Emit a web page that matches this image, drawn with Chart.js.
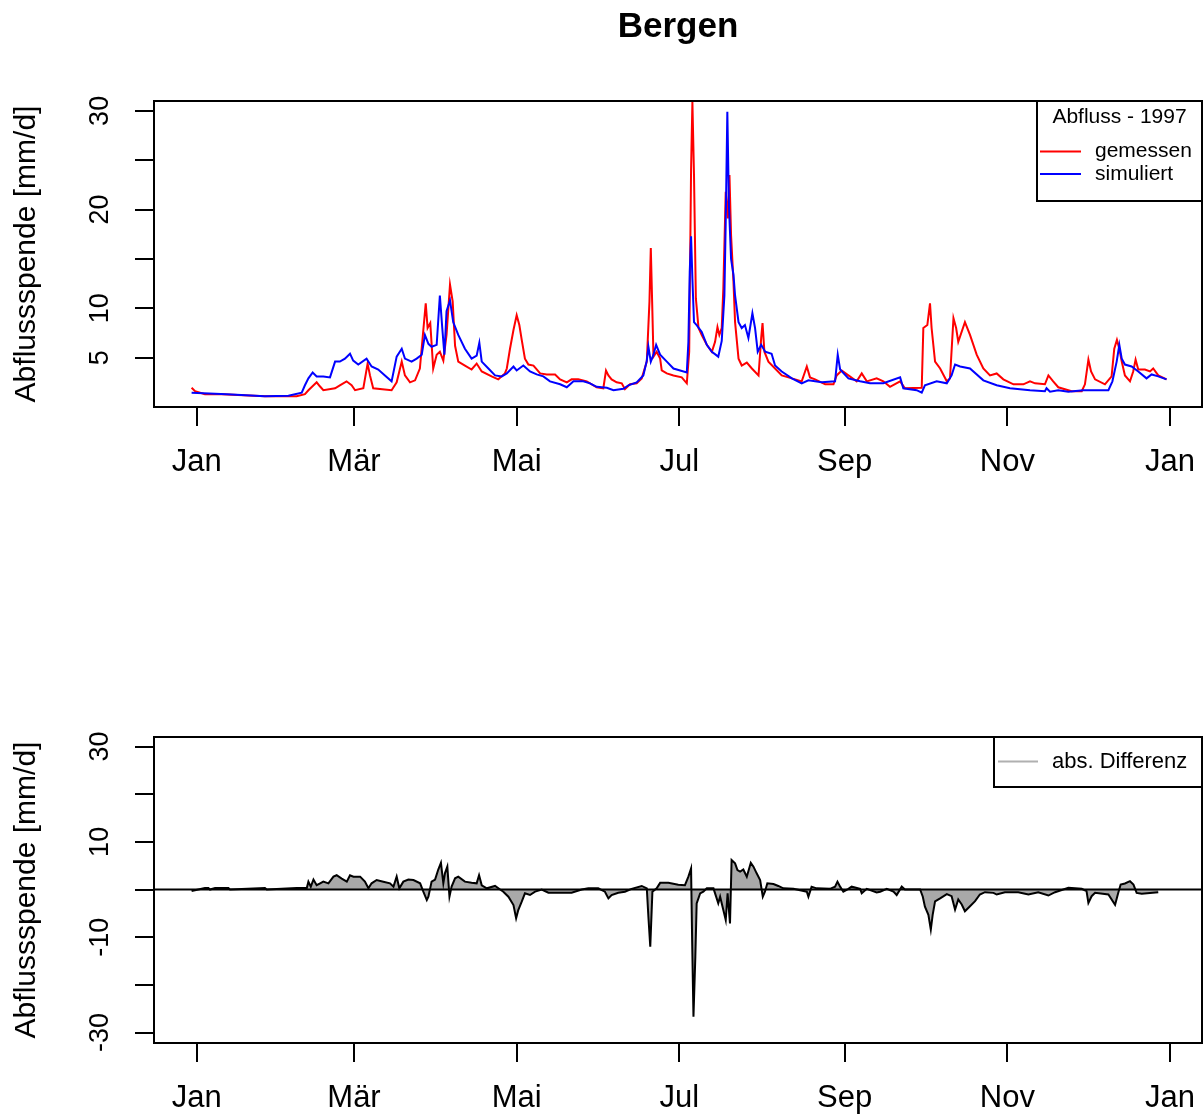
<!DOCTYPE html>
<html><head><meta charset="utf-8">
<script src="https://cdn.jsdelivr.net/npm/chart.js@4/dist/chart.umd.min.js"></script>
<style>
html,body{margin:0;padding:0;background:#fff;}
#c1{position:absolute;left:0;top:0;}
#c2{position:absolute;left:0;top:560px;}
</style></head><body>
<canvas id="c1" width="1204" height="560"></canvas>
<canvas id="c2" width="1204" height="557"></canvas>
<script>
const FONT = '"Liberation Sans", Arial, Helvetica, sans-serif';

const chartTitle = 'Bergen';
const yAxisTitle = 'Abflussspende [mm/d]';
const legendTitle = 'Abfluss - 1997';
const seriesNames = ['gemessen', 'simuliert'];
const diffName = 'abs. Differenz';

const monthTickDays = [0, 59, 120, 181, 243, 304, 365];
const monthTickLabels = ['Jan', 'Mär', 'Mai', 'Jul', 'Sep', 'Nov', 'Jan'];
const topYTicks = [5, 10, 15, 20, 25, 30];
const topYLabels = [5, 10, 20, 30];
const diffYTicks = [-30, -20, -10, 0, 10, 20, 30];
const diffYLabels = [-30, -10, 10, 30];
const xMin = -16, xMax = 377;

// gemessen (measured), day of year -> mm/d
const redDays = [-1.9,-0.6,3.1,9.4,25.6,37.5,40.6,41.9,45,46.2,47.5,51.9,53.7,56.2,58.1,59.4,62.5,64.1,65,66.2,73.1,75,76.9,78.1,80,81.9,83.7,85,85.9,86.6,87.6,88.7,90,91.2,92.5,93.7,95,96,96.9,98.1,100.6,103.1,105,106.9,110.6,113.1,115.6,116.3,117.5,118.8,120,121,121.9,123.1,124.4,126.3,128.8,131.3,134.4,136.3,138.8,140.6,143.1,146.3,150,152.5,153.5,154.4,155.6,157.5,159.4,160.6,162.5,165,166.9,168.8,169.8,170.3,170.8,171.3,172.5,173.8,174.4,176.3,178.8,181.9,183.8,184.7,185.4,185.9,186.5,187.2,188.2,189.4,191.3,193.2,194.4,195.3,196,196.9,197.5,198.4,199.2,199.8,200.4,201.3,201.9,203.2,204.4,206.3,208.2,210.7,211.7,212.2,212.9,214.4,216.9,219.4,223.2,226.9,228.8,230,231.9,235.7,238.8,240,241.9,244.4,247.5,249.4,251.3,255,257.5,260,263.8,265.6,271.9,272.5,274,275,275.6,276.9,278.8,281.3,282.5,283.8,284.8,285.6,288.1,290,292.5,295,297.5,300,302.5,306.3,310,312.5,314.4,318.1,319.4,321.2,323.1,328.1,331.9,333.1,334.4,335.4,336.9,340.6,343.1,344.1,345.1,346,346.9,348.1,350,351.2,352.1,353.1,355.6,357.5,358.7,360.6,363.7];
const redVals = [1.95,1.6,1.3,1.3,1.1,1.1,1.3,1.7,2.5,2.1,1.7,1.9,2.2,2.6,2.2,1.7,1.9,4.4,3.2,1.9,1.7,2.5,4.6,3.2,2.5,2.7,3.9,7.8,10.5,8.0,8.5,3.9,5.3,5.6,4.7,7.3,12.4,10.7,6.2,4.6,4.2,3.8,4.4,3.6,3.1,2.8,3.4,3.9,5.9,7.8,9.3,8.3,6.8,4.9,4.3,4.2,3.4,3.3,3.3,2.8,2.5,2.8,2.8,2.6,2.0,1.9,3.7,3.2,2.8,2.5,2.4,1.8,2.3,2.4,2.9,4.6,10.7,16.1,10.7,5.1,5.6,4.9,3.7,3.4,3.2,3.0,2.4,5.6,24.0,30.9,23.5,11.0,8.0,7.3,6.3,5.6,6.6,8.1,7.3,8.0,12.0,21.8,19.1,23.5,17.4,12.7,8.6,4.9,4.2,4.5,3.9,3.2,7.0,8.5,5.6,4.6,3.9,3.2,2.9,2.6,4.1,3.0,2.8,2.3,2.3,3.2,3.7,3.2,2.6,3.4,2.6,2.9,2.6,2.05,2.6,1.9,1.95,8.0,8.3,10.5,8.0,4.6,3.9,2.6,2.9,9.0,8.0,6.6,8.6,7.3,5.3,3.9,3.2,3.4,2.8,2.3,2.3,2.6,2.4,2.3,3.2,2.6,2.0,1.6,1.6,2.3,4.8,3.6,2.8,2.3,3.1,5.9,6.8,5.9,4.6,3.2,2.6,3.6,4.8,3.8,3.8,3.6,3.9,3.2,2.8];

// simuliert (simulated)
const blueDays = [-1.9,11.3,25.6,34.4,39.4,40.6,41.9,43.5,45,47.5,50,51.9,53.7,55.6,57.5,58.7,60.6,63.7,65.6,68.1,70.6,73.1,75,76.9,78.1,80.6,82.5,84.4,85.6,86.9,88.1,90,91.2,92.1,92.9,93.7,95,96.2,98.1,100.6,103.1,105,106,106.9,109.4,111.9,114.4,116.3,118.8,120,122.5,125,127.5,130,132.5,136.3,138.8,141.3,145,147.5,150,153.8,156.3,160,161.9,165,167.5,168.8,169.4,170.3,171.3,172.3,173.8,176.3,178.8,183.8,184.4,184.9,185.4,185.9,186.5,187.5,189.4,191.3,193.2,195.6,196.9,197.9,198.4,199,199.6,200.4,201.3,201.9,203.2,204.4,205.6,206.9,208.4,209.4,210.4,211.7,213.2,215.6,216.9,219.4,223.2,226.9,229.4,234.4,239.4,240.4,241.3,244.4,248.8,252.5,257.5,263.8,265,270,271.9,273.1,277.5,281.3,283.1,284.4,286.3,290,295,300,305,312.5,318.1,318.7,320,323.1,326.9,332.5,341.9,343.4,345,346,346.9,348.1,350.6,353.1,356.2,358.1,360.6,363.7];
const blueVals = [1.45,1.3,1.1,1.15,1.45,2.2,2.9,3.5,3.1,3.1,3.0,4.6,4.6,4.9,5.4,4.7,4.3,4.9,4.1,3.8,3.2,2.6,5.1,5.9,4.9,4.6,4.9,5.3,7.3,6.4,6.1,6.3,11.3,8.0,5.3,9.7,10.8,8.6,7.3,5.9,4.9,5.2,6.5,4.6,3.9,3.2,3.1,3.4,4.1,3.7,4.2,3.6,3.3,3.1,2.6,2.3,2.0,2.6,2.6,2.4,2.05,1.95,1.7,1.85,2.2,2.5,3.2,4.7,6.1,4.6,5.3,6.3,5.3,4.6,3.9,3.5,6.6,13.7,17.3,13.0,8.6,8.3,7.6,6.3,5.6,5.1,6.7,11.3,18.8,29.9,20.4,15.0,13.4,11.3,8.6,8.0,8.3,7.0,9.5,8.0,5.6,6.3,5.6,5.4,4.2,3.6,2.9,2.4,2.7,2.5,2.6,5.3,3.8,2.9,2.6,2.4,2.4,3.0,1.9,1.7,1.45,2.2,2.6,2.4,3.2,4.3,4.1,3.9,2.7,2.2,1.9,1.7,1.6,1.9,1.55,1.7,1.55,1.7,1.7,2.6,4.6,6.3,4.9,4.3,4.1,3.6,2.9,3.3,3.1,2.8];

// abs. Differenz (simuliert - gemessen)
const diffDays = [-1.9,3.1,4.4,5,6.9,11.9,12.5,25.6,26.3,37.5,41.3,41.9,42.8,43.8,45,46.3,47.5,49.4,51.3,52.5,54.4,56.3,57.5,58.8,61.3,63.1,64.4,65.6,67.5,70,72.5,73.8,75,76,77.5,79.4,81.3,83.8,85,86.3,86.9,88.1,89.4,90.6,91.6,92.5,93.1,94,94.8,95.6,96.9,98.1,100.6,103.1,105,105.9,106.9,108.8,111.9,113.8,115,116.9,118.8,119.8,120.6,121.9,123.1,125,126.9,129.4,131.9,136.9,140.6,144.4,146.9,150.6,153.1,154.4,155.6,158.1,160.6,163.1,166.9,168.8,169.4,170.1,170.9,172.5,173.8,176.9,180.6,183.1,184.4,185.4,185.8,186.3,187,187.5,188.8,190,191.3,193.8,194.8,195.6,196.3,197.5,198.4,199.1,200,200.6,201.9,202.8,203.8,205,206.3,207.8,208.8,210,211.3,212.3,213.1,214,216.3,218.1,220,223.8,228.8,229.4,230.6,232.5,237.5,239.4,240.3,241.3,242.5,244.4,245.6,248.8,249.4,251.3,255,256.3,258.8,261.3,262.5,264.4,265.6,271.3,272.3,273.1,274.4,275.3,276,276.9,278.8,281.3,283.1,284.4,285.6,286.9,288.1,290,291.9,293.7,295.6,298.8,300,303.1,308.1,311.9,315.6,319.4,321.9,326.9,331.9,333.7,334.4,335.6,336.9,341.9,344.4,345.6,346.5,348.1,350,351.3,352.5,354.4,360.6];
const diffVals = [-0.3,0.3,0.3,0,0.3,0.3,0,0.3,0,0.3,0.3,1.65,0.6,2.1,0.9,1.3,1.65,1.3,2.7,3.0,2.3,1.65,3.0,2.7,2.7,1.65,0.25,1.3,2.0,1.65,1.3,0.6,2.7,0.25,1.65,2.1,2.0,1.3,-0.45,-2.2,-1.5,1.65,2.1,4.2,5.6,1.3,3.4,4.8,-1.5,0.6,2.35,2.7,1.65,1.4,1.3,3.0,0.9,0.25,0.75,0,-0.45,-1.5,-3.25,-6.05,-4.3,-2.55,-0.8,-1.15,-0.45,0,-0.67,-0.67,-0.67,0,0.25,0.25,-0.45,-1.85,-1.15,-0.67,-0.45,0.14,0.75,0.25,-5.7,-12.0,-0.45,0.25,1.4,1.4,1.0,0.9,2.7,4.4,-10.6,-26.7,-14.1,-2.9,-0.8,-0.45,0.25,0.25,-1.5,-2.9,-1.5,-4.3,-6.4,-0.8,-7.1,6.2,5.5,4.1,3.75,4.2,2.7,5.6,4.8,3.4,2.0,-1.5,-0.45,1.3,1.15,0.75,0.25,0.14,-0.45,-1.5,0.6,0.25,0.14,0.6,1.65,0.6,-0.45,0.14,0.6,0.14,-0.8,0.14,-0.6,-0.45,0.14,-0.45,-1.15,0.6,0,0,-1.5,-3.6,-5.3,-8.4,-5.3,-2.5,-1.85,-0.95,-1.4,-4.2,-2.1,-3.15,-4.55,-3.5,-2.45,-1.05,-0.56,-0.7,-1.05,-0.56,-0.56,-1.05,-0.56,-1.26,-0.56,0.35,0.14,-0.35,-2.8,-1.4,-0.7,-1.05,-3.2,-0.7,1.05,1.26,1.75,1.05,-0.7,-0.9,-0.56];

const toXY = (xs, ys) => xs.map((x, i) => ({x: x, y: ys[i]}));

Chart.defaults.font.family = FONT;
Chart.defaults.color = '#000';

const rPlot = {
  id: 'rPlot',
  afterDraw(chart, args, o) {
    const ctx = chart.ctx, a = chart.chartArea, ys = chart.scales.y;
    ctx.save();
    ctx.strokeStyle = '#000';
    ctx.lineWidth = 2;
    ctx.strokeRect(a.left, a.top, a.right - a.left, a.bottom - a.top);
    // rotated y tick labels (R style)
    ctx.fillStyle = '#000';
    ctx.font = '27px ' + FONT;
    ctx.textAlign = 'center';
    ctx.textBaseline = 'alphabetic';
    o.yLabels.forEach(v => {
      const y = ys.getPixelForValue(v);
      ctx.save();
      ctx.translate(o.yLabelX, y);
      ctx.rotate(-Math.PI / 2);
      ctx.fillText(String(v), 0, 0);
      ctx.restore();
    });
    // legend box
    const L = o.legend;
    ctx.fillStyle = '#fff';
    ctx.fillRect(L.x, a.top, a.right - L.x, L.h);
    ctx.strokeRect(L.x, a.top, a.right - L.x, L.h);
    ctx.font = L.fontSize + 'px ' + FONT;
    ctx.textBaseline = 'middle';
    if (L.title) {
      ctx.fillStyle = '#000';
      ctx.textAlign = 'center';
      ctx.fillText(L.title, (L.x + a.right) / 2, a.top + L.titleDy);
    }
    L.items.forEach(it => {
      const y = a.top + it.dy;
      ctx.strokeStyle = it.color;
      ctx.lineWidth = 2;
      ctx.beginPath();
      ctx.moveTo(L.x + L.lineX0, y);
      ctx.lineTo(L.x + L.lineX1, y);
      ctx.stroke();
      ctx.fillStyle = '#000';
      ctx.textAlign = 'left';
      ctx.fillText(it.text, L.x + L.textX, y);
    });
    ctx.restore();
  }
};

function xScale(h) {
  return {
    type: 'linear', min: xMin, max: xMax,
    afterBuildTicks: s => { s.ticks = monthTickDays.map(v => ({value: v})); },
    afterFit: s => { s.height = h; s.paddingLeft = 0; s.paddingRight = 0; },
    border: {display: false},
    grid: {drawOnChartArea: false, drawTicks: true, tickLength: 19, color: '#000', lineWidth: 2},
    ticks: {
      autoSkip: false, maxRotation: 0, minRotation: 0, padding: 18, color: '#000',
      font: {size: 31, family: FONT},
      callback: v => monthTickLabels[monthTickDays.indexOf(v)]
    }
  };
}
function yScale(min, max, ticks) {
  return {
    type: 'linear', min: min, max: max,
    afterBuildTicks: s => { s.ticks = ticks.map(v => ({value: v})); },
    afterFit: s => { s.width = 154; s.paddingTop = 0; s.paddingBottom = 0; },
    border: {display: false},
    grid: {drawOnChartArea: false, drawTicks: true, tickLength: 19, color: '#000', lineWidth: 2},
    ticks: {display: false},
    title: {display: true, text: yAxisTitle, color: '#000', font: {size: 30, family: FONT}, padding: {top: 9, bottom: 0}}
  };
}

new Chart(document.getElementById('c1'), {
  type: 'line',
  data: {
    datasets: [
      {label: seriesNames[0], data: toXY(redDays, redVals), borderColor: '#ff0000', borderWidth: 2, pointRadius: 0, tension: 0, fill: false, order: 1},
      {label: seriesNames[1], data: toXY(blueDays, blueVals), borderColor: '#0000ff', borderWidth: 2, pointRadius: 0, tension: 0, fill: false, order: 0}
    ]
  },
  options: {
    responsive: false, animation: false, events: [],
    layout: {padding: {top: 0, right: 2, left: 0, bottom: 0}},
    scales: {x: xScale(153), y: yScale(0, 31, topYTicks)},
    plugins: {
      legend: {display: false}, tooltip: {enabled: false},
      title: {display: true, text: chartTitle, fullSize: false, color: '#000', font: {size: 35, weight: 'bold', family: FONT}, padding: {top: 6, bottom: 53}},
      rPlot: {
        yLabels: topYLabels, yLabelX: 108,
        legend: {x: 1037, h: 100, fontSize: 21, title: legendTitle, titleDy: 16, lineX0: 3, lineX1: 44, textX: 58,
          items: [{text: seriesNames[0], color: '#ff0000', dy: 50.5}, {text: seriesNames[1], color: '#0000ff', dy: 73}]}
      }
    }
  },
  plugins: [rPlot]
});

new Chart(document.getElementById('c2'), {
  type: 'line',
  data: {
    datasets: [
      {label: diffName, data: toXY(diffDays, diffVals), borderColor: '#000', backgroundColor: '#a9a9a9', borderWidth: 2, pointRadius: 0, tension: 0, fill: 'origin', order: 1},
      {label: 'null', data: [{x: xMin, y: 0}, {x: xMax, y: 0}], borderColor: '#000', borderWidth: 2, pointRadius: 0, fill: false, order: 0}
    ]
  },
  options: {
    responsive: false, animation: false, events: [],
    layout: {padding: {top: 177, right: 2, left: 0, bottom: 0}},
    scales: {x: xScale(74), y: yScale(-32.2, 32.0, diffYTicks)},
    plugins: {
      legend: {display: false}, tooltip: {enabled: false}, title: {display: false},
      rPlot: {
        yLabels: diffYLabels, yLabelX: 108,
        legend: {x: 994, h: 50, fontSize: 22, title: null, lineX0: 4, lineX1: 44, textX: 58,
          items: [{text: diffName, color: '#b0b0b0', dy: 24.5}]}
      }
    }
  },
  plugins: [rPlot]
});
</script>
</body></html>
